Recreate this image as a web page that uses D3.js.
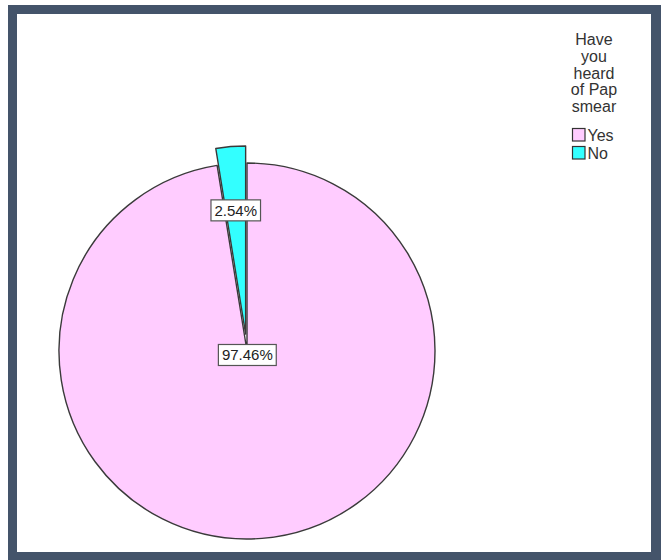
<!DOCTYPE html>
<html>
<head>
<meta charset="utf-8">
<script src="https://cdn.jsdelivr.net/npm/d3@7"></script>
<style>
  html, body { margin: 0; padding: 0; background: #fff; }
  svg { display: block; }
</style>
</head>
<body>
<svg id="chart" width="661" height="560"></svg>
<script>
// Survey answers: "Have you heard of Pap smear"
const categories = ["Yes", "No"];
const percentages = [97.46, 2.54];
const sliceColors = ["#ffccff", "#33ffff"];
const legendTitleLines = ["Have", "you", "heard", "of Pap", "smear"];
const explodedCategory = "No";

const svg = d3.select("#chart");
const W = 661, H = 560;

// Frame
svg.append("rect").attr("x", 8).attr("y", 5).attr("width", W - 8).attr("height", H - 5)
  .attr("fill", "#44546a");
svg.append("rect").attr("x", 17).attr("y", 14).attr("width", 634).attr("height", 538)
  .attr("fill", "#ffffff");

// Pie
const cx = 247, cy = 351, radius = 188, explodeBy = 17;
const data = categories.map((c, i) => ({ category: c, value: percentages[i], color: sliceColors[i] }));

const pie = d3.pie().sort(null).value(d => d.value);
const arcs = pie(data);
const arc = d3.arc().innerRadius(0).outerRadius(radius);

function unitDir(a) {
  const mid = (a.startAngle + a.endAngle) / 2;
  return [Math.sin(mid), -Math.cos(mid)];
}

const g = svg.append("g").attr("transform", `translate(${cx},${cy})`);

const slices = g.selectAll("g.slice").data(arcs).join("g")
  .attr("class", "slice")
  .attr("transform", a => {
    if (a.data.category !== explodedCategory) return null;
    const [ux, uy] = unitDir(a);
    return `translate(${ux * explodeBy},${uy * explodeBy})`;
  });

slices.append("path")
  .attr("d", arc)
  .attr("fill", a => a.data.color)
  .attr("stroke", "#3a3a3a")
  .attr("stroke-width", 1.4)
  .attr("stroke-linejoin", "round");

// Value labels in boxes
const fmt = v => v.toFixed(2) + "%";
const labelArcOuter = d3.arc().innerRadius(radius * 0.66).outerRadius(radius * 0.66);
const labelArcInner = d3.arc().innerRadius(0).outerRadius(8);

slices.each(function (a) {
  const big = a.value / d3.sum(percentages) > 0.5;
  const [lx, ly] = big ? labelArcInner.centroid(a) : labelArcOuter.centroid(a);
  const lg = d3.select(this).append("g").attr("transform", `translate(${lx},${ly})`);
  const rect = lg.append("rect");
  const t = lg.append("text")
    .attr("text-anchor", "middle")
    .attr("dy", "0.36em")
    .attr("font-family", "'Liberation Sans', Arial, sans-serif")
    .attr("font-size", 15)
    .attr("fill", "#222")
    .text(fmt(a.data.value));
  const bb = t.node().getBBox();
  const padX = 3.5;
  const h = 21;
  rect.attr("x", bb.x - padX).attr("y", -h / 2)
    .attr("width", bb.width + padX * 2).attr("height", h)
    .attr("fill", "#fff").attr("stroke", "#555").attr("stroke-width", 1.2);
});

// Legend
const legend = svg.append("g").attr("font-family", "'Liberation Sans', Arial, sans-serif");
legend.selectAll("text.title").data(legendTitleLines).join("text")
  .attr("class", "title")
  .attr("x", 594)
  .attr("y", (d, i) => 45 + i * 16.8)
  .attr("text-anchor", "middle")
  .attr("font-size", 16)
  .attr("fill", "#333")
  .text(d => d);

const items = legend.selectAll("g.item").data(data).join("g")
  .attr("class", "item")
  .attr("transform", (d, i) => `translate(572.5,${128.5 + i * 18})`);
items.append("rect")
  .attr("width", 12.5).attr("height", 12.5)
  .attr("fill", d => d.color)
  .attr("stroke", "#333").attr("stroke-width", 1.2);
items.append("text")
  .attr("x", 15).attr("y", 12.8)
  .attr("font-size", 16)
  .attr("fill", "#333")
  .text(d => d.category);
</script>
</body>
</html>
